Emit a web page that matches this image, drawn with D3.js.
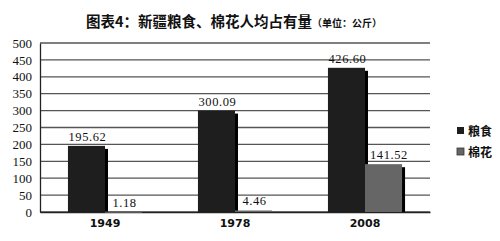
<!DOCTYPE html>
<html><head><meta charset="utf-8">
<script src="https://cdn.jsdelivr.net/npm/d3@7/dist/d3.min.js"></script>
<style>body{margin:0;background:#fff;}svg{display:block;}</style>
</head><body>
<svg id="c" width="500" height="241"></svg>
<script>
const categories = ["1949", "1978", "2008"];
const seriesNames = ["粮食", "棉花"];
const grain = [195.62, 300.09, 426.60];
const cotton = [1.18, 4.46, 141.52];
const yTicks = [0, 50, 100, 150, 200, 250, 300, 350, 400, 450, 500];
const colors = ["#1e1e1e", "#666666"];

const svg = d3.select("#c");
const m = {l: 40, r: 70, t: 43, b: 29};
const W = 500, H = 241;
const x = d3.scaleBand().domain(categories).range([m.l, W - m.r]).paddingInner(0.43).paddingOuter(0.215);
const xs = d3.scaleBand().domain(seriesNames).range([0, x.bandwidth()]);
const y = d3.scaleLinear().domain([0, 500]).range([H - m.b, m.t]);

// grid
svg.append("g").selectAll("line").data(yTicks).join("line")
  .attr("x1", m.l).attr("x2", W - m.r)
  .attr("y1", d => y(d)).attr("y2", d => y(d))
  .attr("stroke", "#555").attr("stroke-width", 1.3);

// y axis
const ya = svg.append("g").attr("transform", `translate(${m.l},0)`)
  .call(d3.axisLeft(y).tickValues(yTicks).tickSize(0).tickPadding(8));
ya.select(".domain").attr("stroke", "#222").attr("stroke-width", 1.3);
ya.selectAll("text").attr("font-family", "Liberation Serif").attr("font-size", 13).attr("fill", "#111");

// x labels
const xa = svg.append("g").attr("transform", `translate(0,${H - m.b})`)
  .call(d3.axisBottom(x).tickSize(0).tickPadding(7));
xa.select(".domain").attr("stroke", "#222").attr("stroke-width", 1.3);
xa.selectAll("text").attr("font-family", "DejaVu Sans").attr("font-weight", "bold").attr("font-size", 11).attr("fill", "#111");

const data = [];
categories.forEach((c, i) => {
  data.push({c, s: seriesNames[0], v: grain[i], k: 0});
  data.push({c, s: seriesNames[1], v: cotton[i], k: 1});
});

const g = svg.append("g");
// shadows
g.selectAll("rect.sh").data(data).join("rect").attr("class", "sh")
  .attr("x", d => x(d.c) + xs(d.s) + 3)
  .attr("y", d => y(d.v) + 3)
  .attr("width", xs.bandwidth())
  .attr("height", d => Math.max(0, y(0) - y(d.v) - 3))
  .attr("fill", "#000");
g.selectAll("rect.bar").data(data).join("rect").attr("class", "bar")
  .attr("x", d => x(d.c) + xs(d.s))
  .attr("y", d => y(d.v))
  .attr("width", xs.bandwidth())
  .attr("height", d => Math.max(1.2, y(0) - y(d.v)))
  .attr("fill", d => colors[d.k]);

// value labels
const labels = g.selectAll("text.v").data(data).join("text").attr("class", "v")
  .attr("y", d => y(d.v) - 5)
  .attr("text-anchor", "start")
  .attr("font-family", "Liberation Serif").attr("font-size", 12.5).attr("letter-spacing", 0.6).attr("fill", "#111")
  .text(d => d.v.toFixed(2));
labels.each(function(d) {
  const w = this.getComputedTextLength();
  const left = x(d.c) + xs(d.s);
  let cx = left + xs.bandwidth() / 2 + 1 - w / 2;
  // avoid sitting on the neighbouring (taller) dark bar's shadow
  if (d.k === 1) {
    const other = grain[categories.indexOf(d.c)];
    if (y(other) < y(d.v) - 14) cx = Math.max(cx, left + 5);
  }
  d3.select(this).attr("x", cx);
});

// title
const t = svg.append("text").attr("x", 86).attr("y", 27).attr("fill", "#111");
t.append("tspan").attr("font-family", "Noto Sans CJK SC").attr("font-weight", "bold").attr("font-size", 14.5)
  .text("图表4：新疆粮食、棉花人均占有量");
t.append("tspan").attr("font-family", "Noto Sans CJK SC").attr("font-weight", "bold").attr("font-size", 10)
  .text("（单位：公斤）");

// legend
const lg = svg.append("g");
seriesNames.forEach((s, i) => {
  const yy = 131 + i * 21;
  lg.append("rect").attr("x", 457).attr("y", yy - 4).attr("width", 7).attr("height", 7)
    .attr("fill", colors[i]).attr("stroke", i ? "#333" : "none").attr("stroke-width", 0.8);
  lg.append("text").attr("x", 468).attr("y", yy + 4.5)
    .attr("font-family", "Noto Sans CJK SC").attr("font-weight", "bold").attr("font-size", 12).attr("fill", "#111")
    .text(s);
});
</script>
</body></html>
